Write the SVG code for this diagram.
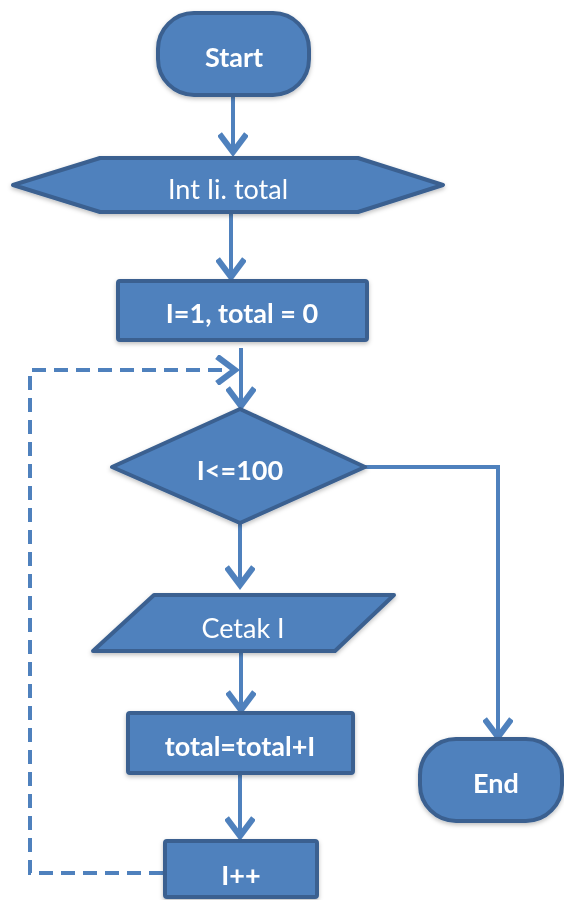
<svg xmlns="http://www.w3.org/2000/svg" width="564" height="900" viewBox="0 0 564 900">
  <defs>
    <marker id="arrow" markerUnits="userSpaceOnUse" markerWidth="30" markerHeight="30" refX="14" refY="10" viewBox="0 0 20 20" orient="auto">
      <polyline points="2,1 14,10 2,19" fill="none" stroke="#4F81BD" stroke-width="4" stroke-linejoin="miter"/>
    </marker>
    <filter id="shadow" x="-20%" y="-20%" width="140%" height="150%">
      <feDropShadow dx="0" dy="2" stdDeviation="2" flood-color="#000" flood-opacity="0.25"/>
    </filter>
  </defs>
  <style>
    .shape { fill: #4F81BD; stroke: #3A6090; stroke-width: 4; stroke-linejoin: round; }
    .link { fill: none; stroke: #4F81BD; stroke-width: 4; }
    .dash { stroke-dasharray: 14 8; }
    .label { fill: #FFFFFF; font-family: Lato, "Open Sans", "Liberation Sans", sans-serif; font-size: 27px; text-anchor: middle; dominant-baseline: central; }
    .bold { font-weight: bold; }
  </style>
  <rect width="564" height="900" fill="#FFFFFF"/>

  <!-- connectors -->
  <g id="connectors">
    <line class="link" x1="233" y1="96" x2="233" y2="152" marker-end="url(#arrow)"/>
    <line class="link" x1="231" y1="214" x2="231" y2="277" marker-end="url(#arrow)"/>
    <line class="link" x1="241" y1="348" x2="241" y2="406" marker-end="url(#arrow)"/>
    <polyline class="link" points="365,467 498,467 498,737" marker-end="url(#arrow)"/>
    <line class="link" x1="240" y1="524" x2="240" y2="585" marker-end="url(#arrow)"/>
    <line class="link" x1="241" y1="653" x2="241" y2="710" marker-end="url(#arrow)"/>
    <line class="link" x1="240" y1="774" x2="240" y2="836" marker-end="url(#arrow)"/>
    <polyline class="link dash" points="163,873 30,873 30,370 235,370" marker-end="url(#arrow)"/>
  </g>

  <g id="start" filter="url(#shadow)">
    <rect class="shape" x="158" y="13" width="151" height="82" rx="36" ry="36"/>
    <text class="label bold" x="234" y="56">Start</text>
  </g>

  <g id="declare" filter="url(#shadow)">
    <polygon class="shape" points="13,185 100,158 358,158 443,185 358,212 100,212"/>
    <text class="label" x="228" y="188">Int Ii. total</text>
  </g>

  <g id="init" filter="url(#shadow)">
    <rect class="shape" x="118" y="281" width="249" height="59" rx="2"/>
    <text class="label bold" x="242" y="312">I=1, total = 0</text>
  </g>

  <g id="condition" filter="url(#shadow)">
    <polygon class="shape" points="240,409 365,467 240,523 112,467"/>
    <text class="label bold" x="240" y="469">I&lt;=100</text>
  </g>

  <g id="print" filter="url(#shadow)">
    <polygon class="shape" points="154,595 394,595 335,651 93,651"/>
    <text class="label" x="243" y="627">Cetak I</text>
  </g>

  <g id="sum" filter="url(#shadow)">
    <rect class="shape" x="128" y="713" width="225" height="60" rx="2"/>
    <text class="label bold" x="240" y="745">total=total+I</text>
  </g>

  <g id="increment" filter="url(#shadow)">
    <rect class="shape" x="165" y="841" width="152" height="56" rx="2"/>
    <text class="label bold" x="241" y="874">I++</text>
  </g>

  <g id="end" filter="url(#shadow)">
    <rect class="shape" x="420" y="739" width="142" height="82" rx="36" ry="36"/>
    <text class="label bold" x="496" y="782">End</text>
  </g>
</svg>
